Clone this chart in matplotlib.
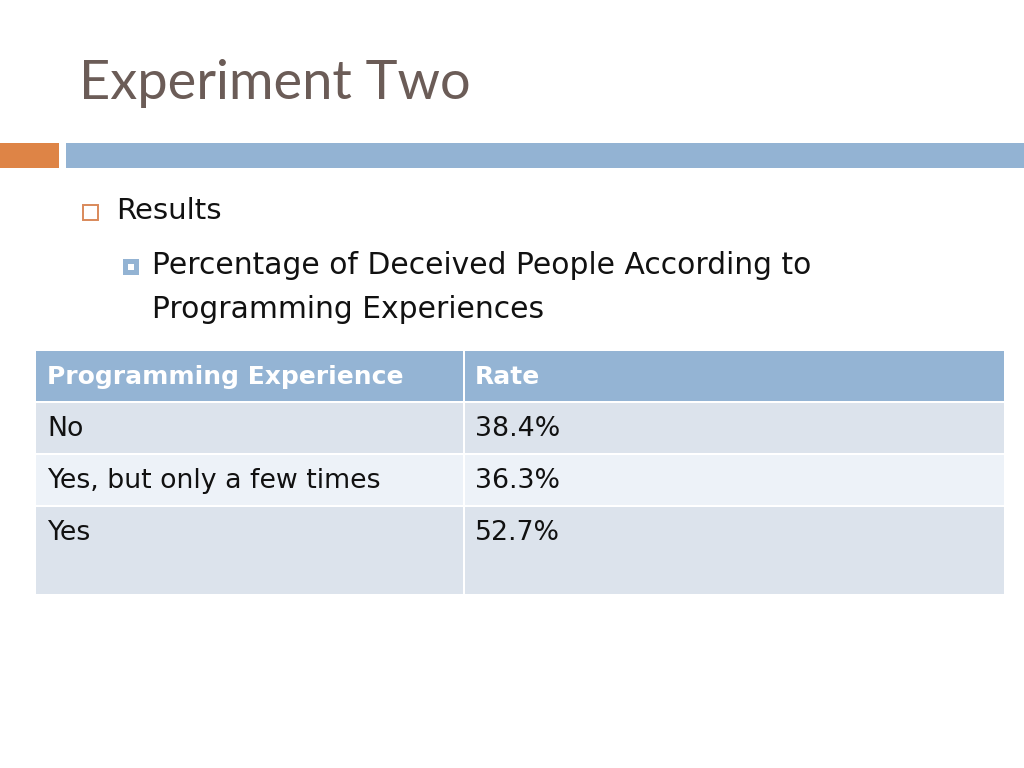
import matplotlib.pyplot as plt
from matplotlib.patches import Rectangle

# slide text
title = 'Experiment Two'
bullet1 = 'Results'
bullet2 = ['Percentage of Deceived People According to', 'Programming Experiences']

# table data
headers = ['Programming Experience', 'Rate']
experience = ['No', 'Yes, but only a few times', 'Yes']
rates = ['38.4%', '36.3%', '52.7%']

title_font = 'Lato'
font = 'DejaVu Sans'
text_col = '#111111'

fig = plt.figure(figsize=(10.24, 7.68), dpi=100)
ax = fig.add_axes([0, 0, 1, 1])
ax.set_xlim(0, 1024)
ax.set_ylim(768, 0)
ax.axis('off')

# title
ax.text(79, 84, title, fontsize=39, color='#6b5c57', family=title_font,
        va='center', ha='left')

# top bars
ax.add_patch(Rectangle((0, 143), 59, 25, color='#de8446', lw=0))
ax.add_patch(Rectangle((66, 143), 958, 25, color='#93b3d3', lw=0))

# bullets
ax.add_patch(Rectangle((83, 205), 15, 15, fill=False, ec='#d9895a', lw=1.4))
ax.text(116, 211, bullet1, fontsize=21, color=text_col, family=font,
        va='center', ha='left')
ax.add_patch(Rectangle((123, 259), 16, 16, fc='#93b3d3', ec='none'))
ax.add_patch(Rectangle((128, 264), 6, 6, fc='white', ec='none'))
for i, line in enumerate(bullet2):
    ax.text(152, 266 + i * 44, line, fontsize=21.4, color=text_col, family=font,
            va='center', ha='left')

# table
x0, x1, xmid = 36, 1004, 464
row_tops = [351, 403, 455, 507]
row_h = [50, 50, 50, 87]
row_cols = ['#94b4d4', '#dce3ec', '#edf2f8', '#dce3ec']
rows = [headers] + [[e, r] for e, r in zip(experience, rates)]

for i, (top, h, c, cells) in enumerate(zip(row_tops, row_h, row_cols, rows)):
    ax.add_patch(Rectangle((x0, top), xmid - x0 - 1, h, color=c, lw=0))
    ax.add_patch(Rectangle((xmid + 1, top), x1 - xmid - 1, h, color=c, lw=0))
    ty = top + 26
    if i == 0:
        kw = dict(color='white', fontweight='bold', fontsize=18)
    else:
        kw = dict(color=text_col, fontsize=19.3)
    ax.text(47, ty, cells[0], family=font, va='center', ha='left', **kw)
    ax.text(475, ty, cells[1], family=font, va='center', ha='left', **kw)

fig.savefig('out.png', dpi=100)
